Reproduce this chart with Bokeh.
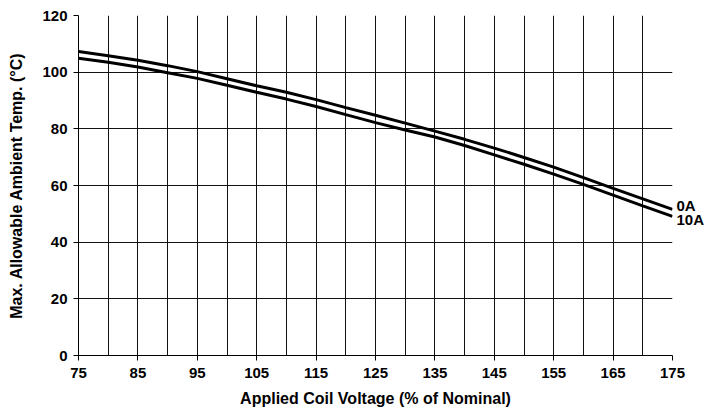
from bokeh.plotting import figure
from bokeh.models import Range1d, FixedTicker, LinearAxis
from bokeh.embed import file_html
from bokeh.resources import INLINE

# Data
voltage = [75, 80, 85, 90, 95, 100, 105, 110, 115, 120, 125, 130, 135, 140, 145,
           150, 155, 160, 165, 170, 175]
temp_0a = [107.3, 105.8, 104.2, 102.3, 100.2, 97.7, 95.2, 92.9, 90.3, 87.5, 84.8,
           82.0, 79.2, 76.3, 73.2, 69.9, 66.5, 62.8, 59.0, 55.3, 51.6]
temp_10a = [104.9, 103.5, 101.8, 99.8, 97.8, 95.4, 92.9, 90.5, 87.9, 85.0, 82.2,
            79.6, 77.1, 74.1, 70.8, 67.5, 64.0, 60.4, 56.6, 52.8, 49.1]
series_names = ["0A", "10A"]
series_label_y = [52.9, 48.1]
x_ticks = [75, 85, 95, 105, 115, 125, 135, 145, 155, 165, 175]
y_ticks = [0, 20, 40, 60, 80, 100, 120]
x_grid = [75, 80, 85, 90, 95, 100, 105, 110, 115, 120, 125, 130, 135, 140, 145,
          150, 155, 160, 165, 170, 175]

FONT = "Liberation Sans"

p = figure(frame_width=594, frame_height=340,
           x_range=Range1d(75, 175), y_range=Range1d(0, 120),
           output_backend="svg", toolbar_location=None,
           min_border_left=78, min_border_right=40,
           min_border_top=15, min_border_bottom=52)
p.outline_line_color = None
p.background_fill_color = "white"
p.border_fill_color = "white"

# grids
p.xgrid.ticker = FixedTicker(ticks=x_grid)
p.ygrid.ticker = FixedTicker(ticks=y_ticks)
for g in (p.xgrid, p.ygrid):
    g.grid_line_color = "#111111"
    g.grid_line_width = 1
    g.grid_line_alpha = 1.0

# axes
p.xaxis.ticker = FixedTicker(ticks=x_ticks)
p.yaxis.ticker = FixedTicker(ticks=y_ticks)
for ax in (p.xaxis, p.yaxis):
    ax.axis_line_color = "black"
    ax.axis_line_width = 1
    ax.major_tick_line_color = "black"
    ax.major_tick_in = 0
    ax.major_tick_out = 5
    ax.minor_tick_line_color = None
    ax.major_label_text_font = FONT
    ax.major_label_text_font_style = "bold"
    ax.major_label_text_font_size = "15px"
    ax.major_label_text_color = "black"
    ax.axis_label_text_font = FONT
    ax.axis_label_text_font_style = "bold"
    ax.axis_label_text_font_size = "16px"
    ax.axis_label_text_color = "black"

p.xaxis.axis_label = "Applied Coil Voltage (% of Nominal)"
p.yaxis.axis_label = "Max. Allowable Ambient Temp. (°C)"
p.xaxis.major_label_standoff = 7
p.xaxis.axis_label_standoff = 9
p.yaxis.major_label_standoff = 6
p.yaxis.axis_label_standoff = 14

# curves
p.line(voltage, temp_0a, line_color="black", line_width=3)
p.line(voltage, temp_10a, line_color="black", line_width=3)

# series labels at the right end of the curves, as a bare right axis
right = LinearAxis(ticker=FixedTicker(ticks=series_label_y),
                   major_label_overrides={v: n for v, n in zip(series_label_y, series_names)})
right.axis_line_color = None
right.major_tick_line_color = None
right.minor_tick_line_color = None
right.major_tick_in = 0
right.major_tick_out = 0
right.major_label_standoff = 4
right.major_label_text_font = FONT
right.major_label_text_font_style = "bold"
right.major_label_text_font_size = "15px"
right.major_label_text_color = "black"
p.add_layout(right, "right")

open("out.html", "w").write(file_html(p, INLINE))
